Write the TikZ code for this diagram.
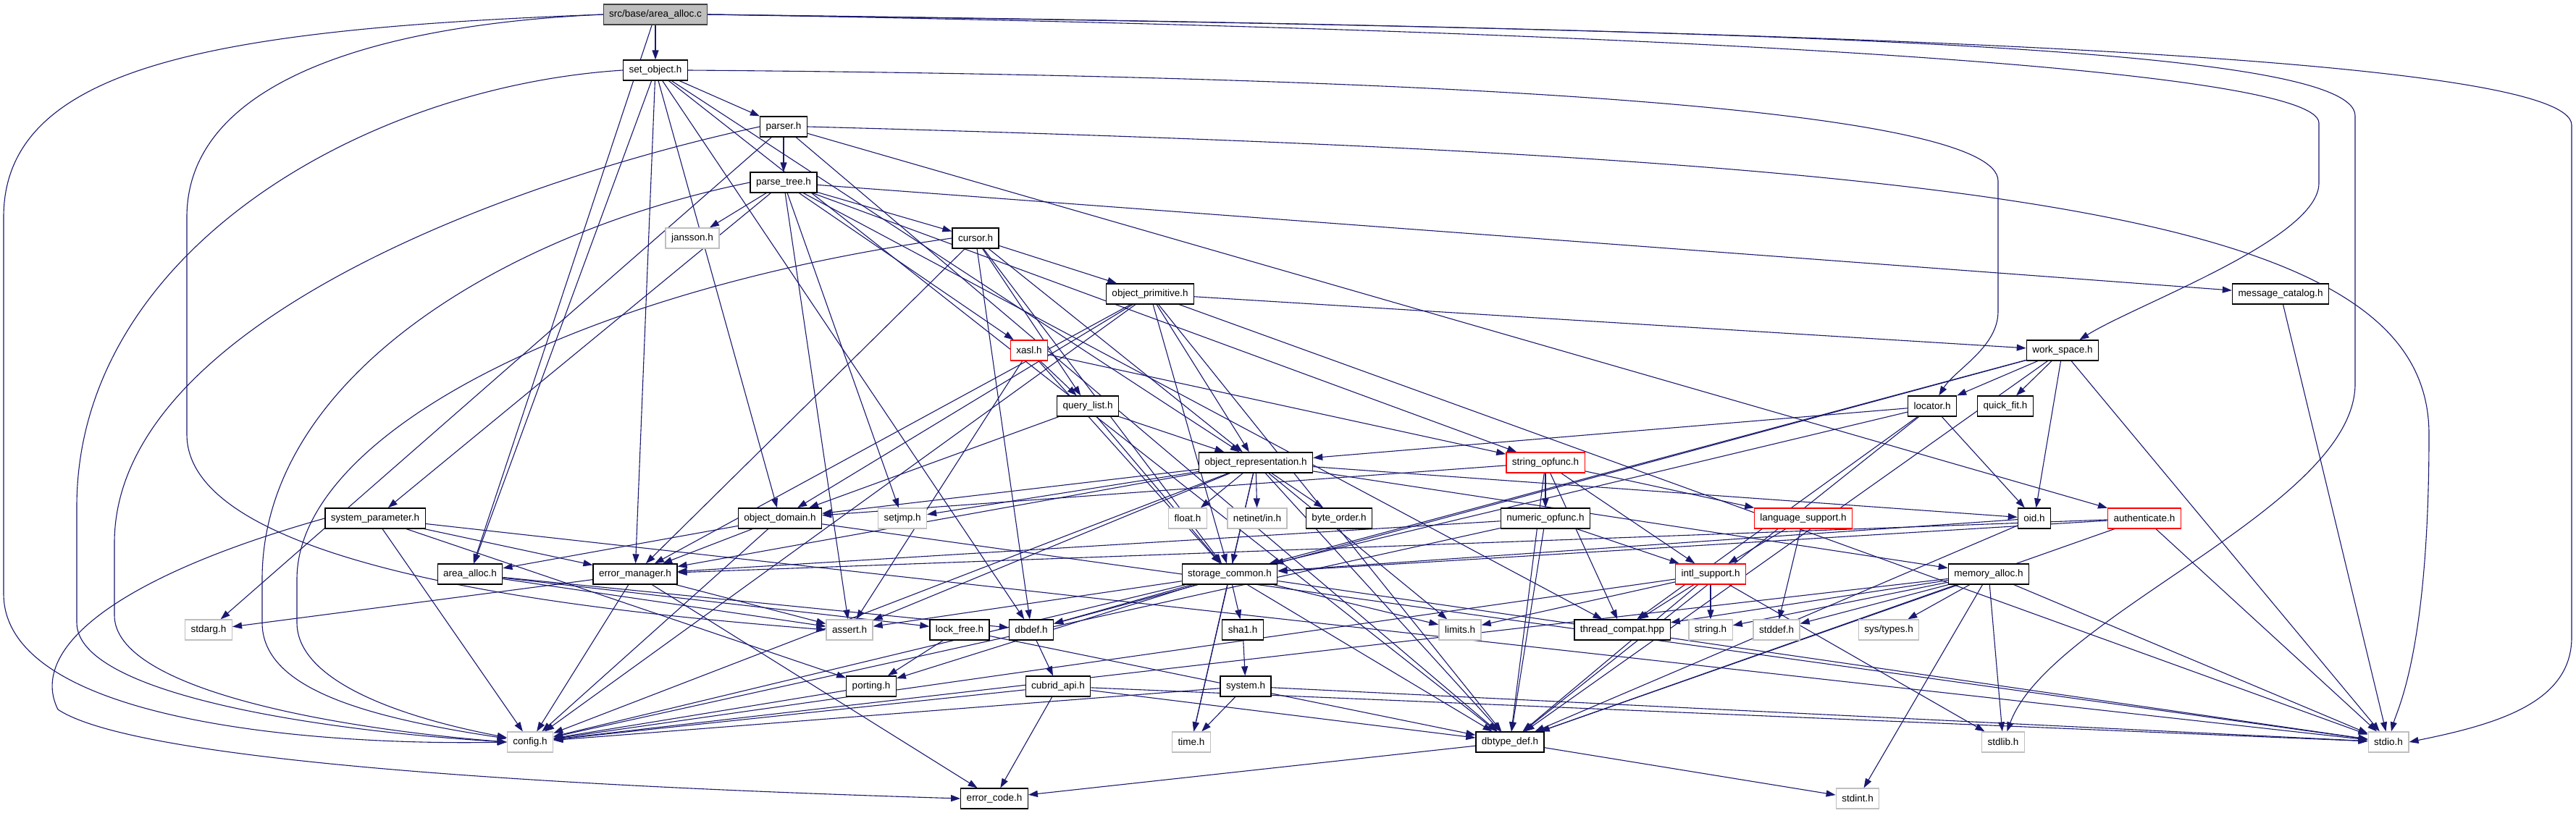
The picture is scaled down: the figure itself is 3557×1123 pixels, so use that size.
\documentclass[tikz,border=0pt]{standalone}
\usepackage{fontspec}
\setmainfont{Liberation Sans}
\usetikzlibrary{arrows.meta}
\definecolor{Edge}{HTML}{191970}
\definecolor{Light}{HTML}{BFBFBF}
\definecolor{Cut}{HTML}{FF0000}
\definecolor{RootFill}{HTML}{BFBFBF}
\definecolor{RootLine}{HTML}{404040}
\pgfdeclarelayer{wires}
\pgfsetlayers{wires,main}
\begin{document}
\begin{tikzpicture}[x=1pt,y=-1pt,font=\fontsize{13.5}{16}\selectfont,
    hdrbox/.style={draw=black,fill=white,line width=1.3pt,minimum height=28pt,inner xsep=8pt,inner ysep=0pt},
    sysbox/.style={hdrbox,draw=Light},
    cutbox/.style={hdrbox,draw=Cut},
    rootbox/.style={hdrbox,fill=RootFill,draw=RootLine},
    incl/.style={draw=Edge,line width=1.1pt,-{Triangle[length=13pt,width=9pt]}}]
  \useasboundingbox (0,0) rectangle (3557,1123);
  \node[rootbox] (areac) at (905,20) {src/base/area\_alloc.c};
  \node[hdrbox] (setobj) at (905,97) {set\_object.h};
  \node[hdrbox] (parser) at (1082,175) {parser.h};
  \node[hdrbox] (ptree) at (1082,252) {parse\_tree.h};
  \node[sysbox] (jansson) at (956,329) {jansson.h};
  \node[hdrbox] (cursor) at (1347,329) {cursor.h};
  \node[hdrbox] (oprim) at (1588,406) {object\_primitive.h};
  \node[hdrbox] (msgcat) at (3149,406) {message\_catalog.h};
  \node[cutbox] (xasl) at (1421,484) {xasl.h};
  \node[hdrbox] (wspace) at (2848,484) {work\_space.h};
  \node[hdrbox] (qlist) at (1502,561) {query\_list.h};
  \node[hdrbox] (locator) at (2668,561) {locator.h};
  \node[hdrbox] (qfit) at (2769,561) {quick\_fit.h};
  \node[hdrbox] (orep) at (1734,639) {object\_representation.h};
  \node[cutbox] (sopf) at (2134,639) {string\_opfunc.h};
  \node[hdrbox] (sysprm) at (518,716) {system\_parameter.h};
  \node[hdrbox] (odom) at (1077,716) {object\_domain.h};
  \node[sysbox] (setjmp) at (1246,716) {setjmp.h};
  \node[sysbox] (float) at (1640,716) {float.h};
  \node[sysbox] (netin) at (1736,716) {netinet/in.h};
  \node[hdrbox] (border) at (1849,716) {byte\_order.h};
  \node[hdrbox] (nopf) at (2134,716) {numeric\_opfunc.h};
  \node[cutbox] (lang) at (2490,716) {language\_support.h};
  \node[hdrbox] (oid) at (2809,716) {oid.h};
  \node[cutbox] (auth) at (2961,716) {authenticate.h};
  \node[hdrbox] (aallh) at (649,793) {area\_alloc.h};
  \node[hdrbox] (errmgr) at (877,793) {error\_manager.h};
  \node[hdrbox] (stcom) at (1698,793) {storage\_common.h};
  \node[cutbox] (intl) at (2362,793) {intl\_support.h};
  \node[hdrbox] (memal) at (2746,793) {memory\_alloc.h};
  \node[sysbox] (stdarg) at (288,870) {stdarg.h};
  \node[sysbox] (assert) at (1173,870) {assert.h};
  \node[hdrbox] (lockf) at (1325,870) {lock\_free.h};
  \node[hdrbox] (dbdef) at (1424,870) {dbdef.h};
  \node[hdrbox] (sha1) at (1716,870) {sha1.h};
  \node[sysbox] (limits) at (2016,870) {limits.h};
  \node[hdrbox] (thrc) at (2240,870) {thread\_compat.hpp};
  \node[sysbox] (string) at (2362,870) {string.h};
  \node[sysbox] (stddef) at (2453,870) {stddef.h};
  \node[sysbox] (systypes) at (2608,870) {sys/types.h};
  \node[hdrbox] (porting) at (1203,948) {porting.h};
  \node[hdrbox] (capi) at (1461,948) {cubrid\_api.h};
  \node[hdrbox] (system) at (1720,948) {system.h};
  \node[sysbox] (config) at (732,1025) {config.h};
  \node[sysbox] (time) at (1645,1025) {time.h};
  \node[hdrbox] (dbtd) at (2085,1025) {dbtype\_def.h};
  \node[sysbox] (stdlib) at (2766,1025) {stdlib.h};
  \node[sysbox] (stdio) at (3298,1025) {stdio.h};
  \node[hdrbox] (errcode) at (1373,1103) {error\_code.h};
  \node[sysbox] (stdint) at (2565,1103) {stdint.h};
  \begin{pgfonlayer}{wires}
    \foreach \t in {setobj,aallh} \draw[incl] (areac) -- (\t);
    \draw[incl] (areac.west) .. controls (300,40) and (5,90) .. (5,300) -- (5,820) .. controls (5,1000) and (450,1030) .. (config.west);
    \draw[incl] (areac.west) .. controls (500,35) and (258,120) .. (258,300) -- (258,600) .. controls (258,800) and (900,850) .. (assert.west);
    \draw[incl] (areac.east) .. controls (2600,40) and (3551,80) .. (3551,173) -- (3551,880) .. controls (3551,970) and (3450,1000) .. (stdio.east);
    \draw[incl] (areac.east) .. controls (2200,40) and (3202,90) .. (3202,170) -- (3202,253) .. controls (3202,330) and (2950,420) .. (wspace);
    \draw[incl] (areac.east) .. controls (2400,40) and (3252,60) .. (3252,160) -- (3252,530) .. controls (3252,700) and (2830,850) .. (stdlib);
    \foreach \t in {parser,orep,odom,errmgr,aallh,dbtd,dbdef} \draw[incl] (setobj) -- (\t);
    \draw[incl] (setobj.west) .. controls (500,120) and (106,350) .. (106,700) -- (106,860) .. controls (106,960) and (450,1010) .. (config.west);
    \draw[incl] (setobj.east) .. controls (2000,105) and (2759,150) .. (2759,250) -- (2759,430) .. controls (2759,480) and (2700,510) .. (locator);
    \foreach \t in {ptree,stdarg,auth,dbtd} \draw[incl] (parser) -- (\t);
    \draw[incl] (parser.west) .. controls (700,250) and (158,450) .. (158,750) -- (158,850) .. controls (158,950) and (450,1005) .. (config.west);
    \draw[incl] (parser.east) .. controls (2800,220) and (3354,300) .. (3354,600) .. controls (3354,900) and (3310,980) .. (stdio);
    \foreach \t in {jansson,cursor,xasl,setjmp,msgcat,sopf,thrc,sysprm,assert} \draw[incl] (ptree) -- (\t);
    \draw[incl] (ptree.west) .. controls (700,320) and (362,520) .. (362,800) -- (362,860) .. controls (362,950) and (500,990) .. (config);
    \foreach \t in {oprim,qlist,orep,stcom,errmgr,dbdef} \draw[incl] (cursor) -- (\t);
    \draw[incl] (cursor.west) .. controls (800,400) and (410,600) .. (410,800) -- (410,860) .. controls (410,940) and (550,990) .. (config);
    \foreach \t in {wspace,orep,odom,errmgr,config,stdio,dbtd,stcom} \draw[incl] (oprim) -- (\t);
    \foreach \t in {qlist,sopf,stcom,assert} \draw[incl] (xasl) -- (\t);
    \foreach \t in {orep,odom,stcom} \draw[incl] (qlist) -- (\t);
    \foreach \t in {locator,qfit,oid,dbtd,stdio,stcom,dbdef} \draw[incl] (wspace) -- (\t);
    \foreach \t in {orep,oid,stcom,thrc,dbtd} \draw[incl] (locator) -- (\t);
    \draw[incl] (msgcat) -- (stdio);
    \foreach \t in {float,netin,border,setjmp,odom,memal,errmgr,stcom,assert,oid,config,dbtd,limits,time} \draw[incl] (orep) -- (\t);
    \foreach \t in {nopf,lang,intl,thrc,odom,dbtd} \draw[incl] (sopf) -- (\t);
    \foreach \t in {errmgr,config,porting,stdio} \draw[incl] (sysprm) -- (\t);
    \draw[incl] (sysprm.west) .. controls (150,800) and (40,900) .. (80,980) .. controls (200,1060) and (900,1090) .. (errcode.west);
    \foreach \t in {aallh,errmgr,config,stdio} \draw[incl] (odom) -- (\t);
    \foreach \t in {intl,dbtd,errmgr,config} \draw[incl] (nopf) -- (\t);
    \foreach \t in {intl,stddef} \draw[incl] (lang) -- (\t);
    \foreach \t in {stcom,dbtd} \draw[incl] (oid) -- (\t);
    \foreach \t in {stcom,errmgr,stdio,dbtd} \draw[incl] (auth) -- (\t);
    \foreach \t in {lockf,dbdef,assert} \draw[incl] (aallh) -- (\t);
    \foreach \t in {stdarg,config,assert,errcode} \draw[incl] (errmgr) -- (\t);
    \foreach \t in {assert,dbdef,sha1,time,limits,stdio,dbtd,config,porting} \draw[incl] (stcom) -- (\t);
    \foreach \t in {limits,string,thrc,dbtd,stdlib,config} \draw[incl] (intl) -- (\t);
    \foreach \t in {thrc,string,stddef,systypes,dbtd,stdlib,stdint,stdio,config} \draw[incl] (memal) -- (\t);
    \foreach \t in {porting,dbtd} \draw[incl] (lockf) -- (\t);
    \draw[incl] (dbdef) -- (capi);
    \draw[incl] (sha1) -- (system);
    \draw[incl] (porting) -- (config);
    \foreach \t in {config,errcode,dbtd,stdio} \draw[incl] (capi) -- (\t);
    \foreach \t in {config,time,stdio} \draw[incl] (system) -- (\t);
    \foreach \t in {errcode,stdint} \draw[incl] (dbtd) -- (\t);
  \end{pgfonlayer}
\end{tikzpicture}
\end{document}
